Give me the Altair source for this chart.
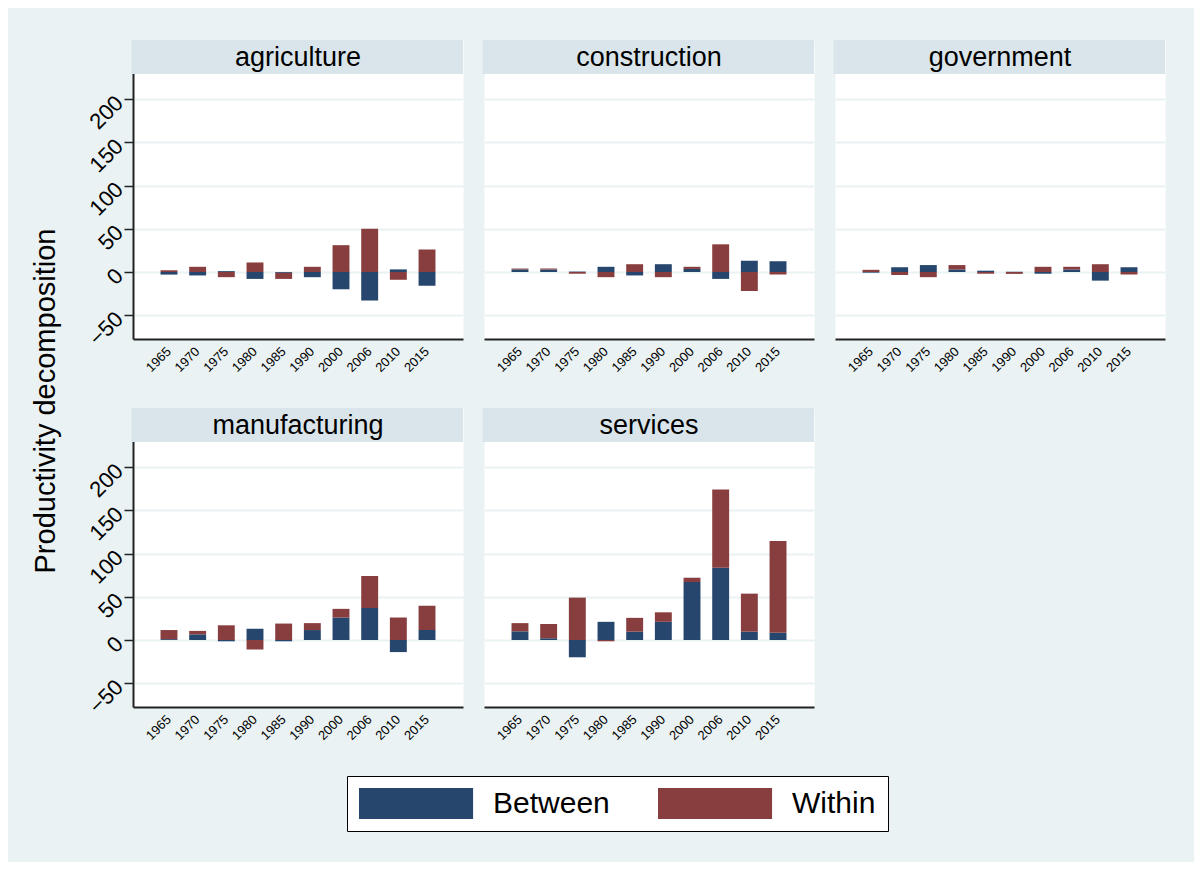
import altair as alt
import pandas as pd

years = ["1965", "1970", "1975", "1980", "1985", "1990", "2000", "2006", "2010", "2015"]
sectors = ["agriculture", "construction", "government", "manufacturing", "services"]
components = ["Between", "Within"]
y_title = "Productivity decomposition"
y_ticks = [-50, 0, 50, 100, 150, 200]

between_agriculture = [-3, -4, 1, -8, -1, -6, -20, -33, 3, -16]
within_agriculture = [2, 6, -6, 11, -7, 6, 31, 50, -9, 26]
between_construction = [3, 3, 0.5, 6, -4, 9, 3.5, -8, 13, 12.5]
within_construction = [1, 1, -2, -6, 9, -6, 2.5, 32, -22, -3]
between_government = [-0.8, 5.5, 8, 3, 1.5, 0.3, -2, 3, -10, 5.5]
within_government = [2.5, -3.5, -6, 5, -2, -2.2, 6, 3, 9, -3]
between_manufacturing = [1, 6.5, -1.5, 13, -1.5, 11.5, 26, 37, -14, 11.5]
within_manufacturing = [10.5, 4, 17, -11, 19, 8, 10, 37, 26, 28]
between_services = [10, 2, -20, 21, 9.6, 21, 67, 83.5, 9.6, 8.5]
within_services = [9.5, 16.5, 49, -1.5, 16, 11, 5, 90.5, 44, 106]

between = {
    "agriculture": between_agriculture,
    "construction": between_construction,
    "government": between_government,
    "manufacturing": between_manufacturing,
    "services": between_services,
}
within = {
    "agriculture": within_agriculture,
    "construction": within_construction,
    "government": within_government,
    "manufacturing": within_manufacturing,
    "services": within_services,
}

rows = []
for s in sectors:
    for i, yr in enumerate(years):
        rows.append({"sector": s, "year": yr, "component": "Between", "value": between[s][i]})
        rows.append({"sector": s, "year": yr, "component": "Within", "value": within[s][i]})
df = pd.DataFrame(rows)

BG = "#EAF2F3"
HEAD = "#D9E5EA"
BLUE = "#26466D"
RED = "#883E3F"
FONT = "Liberation Sans"
PW, PH, HH = 330, 265, 34
Y_DOMAIN = [-77.5, 268.3]

legend = alt.Legend(
    orient="none", legendX=338, legendY=736, direction="horizontal", title=None,
    symbolType="M-1,-1H6.36V1H-1Z", symbolSize=961, symbolStrokeWidth=0,
    symbolOpacity=1, labelFontSize=30, labelFont=FONT, labelColor="black",
    labelOffset=103, columnPadding=48, padding=12, strokeColor="black",
    fillColor="white", labelLimit=400,
)


def panel(sector, left):
    if left:
        yaxis = alt.Axis(
            values=y_ticks, grid=True, gridColor=BG, gridWidth=2, title=None,
            labelFontSize=22, labelFont=FONT, labelColor="black", labelAngle=-45,
            labelAlign="right", labelBaseline="middle", labelPadding=5,
            tickSize=9, tickColor="#222", tickWidth=1.5,
            domainColor="#222", domainWidth=2,
        )
    else:
        yaxis = alt.Axis(
            values=y_ticks, grid=True, gridColor=BG, gridWidth=2, title=None,
            labels=False, ticks=False, domain=False,
        )
    bars = (
        alt.Chart(df)
        .transform_filter(alt.datum.sector == sector)
        .mark_bar()
        .encode(
            x=alt.X(
                "year:N", sort=years,
                scale=alt.Scale(paddingInner=0.41, paddingOuter=0.96),
                axis=alt.Axis(
                    title=None, labelAngle=-45, labelAlign="right", labelBaseline="middle",
                    labelFontSize=13, labelFont=FONT, labelColor="black", ticks=False,
                    labelPadding=10, domainColor="#222", domainWidth=2, grid=False,
                ),
            ),
            y=alt.Y(
                "value:Q", stack="zero",
                scale=alt.Scale(domain=Y_DOMAIN, nice=False, zero=False),
                axis=yaxis,
            ),
            color=alt.Color(
                "component:N", scale=alt.Scale(domain=components, range=[BLUE, RED]),
                legend=legend,
            ),
            order=alt.Order("component:N", sort="ascending"),
        )
    )
    head_df = pd.DataFrame({"t": [sector]})
    head_rect = (
        alt.Chart(head_df)
        .mark_rect(color=HEAD)
        .encode(x=alt.value(-1.5), x2=alt.value(PW), y=alt.value(0), y2=alt.value(HH))
    )
    head_text = (
        alt.Chart(head_df)
        .mark_text(fontSize=27, font=FONT, color="black")
        .encode(x=alt.value(PW / 2), y=alt.value(HH / 2 + 1), text="t:N")
    )
    return alt.layer(bars, head_rect, head_text).properties(
        width=PW, height=PH + HH,
        view=alt.ViewBackground(fill="white", stroke="transparent"),
    )


grid = alt.concat(
    *[panel(s, i % 3 == 0) for i, s in enumerate(sectors)],
    columns=3, spacing=alt.RowColnumber(row=69, column=21), bounds="flush",
)

ytitle = (
    alt.Chart(pd.DataFrame({"t": [y_title]}))
    .mark_text(fontSize=29, font=FONT, color="black", angle=270)
    .encode(x=alt.value(37), y=alt.value(361), text="t:N")
    .properties(width=74, height=667,
                view=alt.ViewBackground(fill="transparent", stroke="transparent"))
)

chart = (
    alt.hconcat(ytitle, grid, spacing=0)
    .properties(padding={"left": 0, "top": 31, "right": 28, "bottom": 30}, background=BG)
    .configure_view(stroke="transparent")
)

chart.save("out.html", embed_options={"renderer": "svg", "actions": False})
